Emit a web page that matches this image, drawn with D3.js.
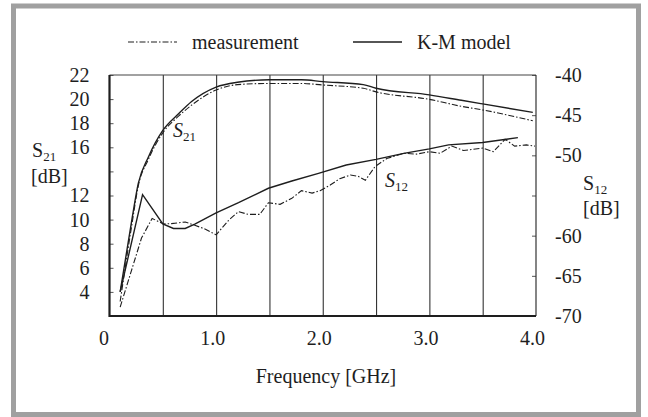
<!DOCTYPE html>
<html><head><meta charset="utf-8">
<script src="https://cdn.jsdelivr.net/npm/d3@7"></script>
<style>
html,body{margin:0;padding:0;background:#fff;}
svg{display:block;}
svg text{font-family:"Liberation Serif","Times New Roman",Times,"DejaVu Serif",serif !important;}
</style></head>
<body><svg id="c" width="648" height="417"></svg>
<script>
// ---- data ----
const s21Freq = [0.10, 0.21, 0.27, 0.365, 0.5, 0.65, 0.77, 1.0, 1.2, 1.5, 1.8, 2.0, 2.38, 2.5, 3.0, 3.3, 3.5, 3.97];
const s21Model = [4.0, 10.0, 13.0, 15.2, 17.4, 18.8, 19.8, 21.0, 21.4, 21.6, 21.6, 21.45, 21.2, 20.9, 20.35, 19.9, 19.6, 18.9];
const s21Meas  = [3.2, 9.6, 12.8, 15.0, 17.2, 18.6, 19.5, 20.75, 21.2, 21.3, 21.3, 21.17, 20.9, 20.6, 19.98, 19.4, 19.1, 18.2];

const s12ModelFreq = [0.10, 0.31, 0.5, 0.6, 0.71, 0.8, 1.0, 1.21, 1.49, 1.71, 1.96, 2.22, 2.5, 2.76, 3.0, 3.18, 3.5, 3.83];
const s12Model = [-67.0, -54.9, -58.55, -59.1, -59.1, -58.55, -57.15, -55.9, -54.1, -53.2, -52.25, -51.2, -50.5, -49.75, -49.2, -48.7, -48.4, -47.8];

const s12MeasFreq = [0.10, 0.30, 0.40, 0.506, 0.58, 0.71, 0.80, 0.90, 1.0, 1.12, 1.21, 1.30, 1.41, 1.49, 1.60, 1.71, 1.80, 1.90, 1.975, 2.07, 2.16, 2.26, 2.33, 2.40, 2.49, 2.60, 2.76, 2.88, 3.0, 3.10, 3.21, 3.32, 3.5, 3.6, 3.71, 3.80, 3.91, 3.99];
const s12Meas = [-68.9, -60.3, -57.85, -58.55, -58.5, -58.3, -58.7, -59.2, -59.9, -58.05, -57.0, -57.35, -57.35, -55.9, -56.1, -55.35, -54.4, -54.7, -54.4, -53.7, -52.9, -52.45, -52.6, -53.1, -51.4, -50.4, -49.75, -49.85, -49.55, -49.75, -48.85, -49.4, -49.1, -49.55, -48.0, -48.85, -48.7, -48.85];

const xTicks = [0, 1, 2, 3, 4];
const xGrid = [0.5, 1, 1.5, 2, 2.5, 3, 3.5];
const leftTicks = [2, 4, 6, 8, 10, 12, 14, 16, 18, 20, 22];
const leftLabels = [4, 6, 8, 10, 12, 16, 18, 20, 22];
const rightTicks = [-40, -45, -50, -55, -60, -65, -70];
const rightLabels = [-40, -45, -50, -60, -65, -70];
const legendNames = ["measurement", "K-M model"];

// ---- layout ----
const L = 109.5, R = 536, T = 75, B = 316;
const ink = "#1e1e1e";
const FONT = "Liberation Serif, Times New Roman, Times, DejaVu Serif, serif";
const svg = d3.select("#c");

// outer grey border
svg.append("rect").attr("x", 13.5).attr("y", 6).attr("width", 625).attr("height", 408.5)
  .attr("fill", "none").attr("stroke", "#a0a0a0").attr("stroke-width", 5);

const x = d3.scaleLinear().domain([0, 4]).range([L, R]);
const yL = d3.scaleLinear().domain([2, 22]).range([B, T]);
const yR = d3.scaleLinear().domain([-70, -40]).range([B, T]);

// grid lines
svg.append("g").attr("transform", `translate(0,${B})`)
  .call(d3.axisBottom(x).tickValues(xGrid).tickSize(-(B - T)).tickFormat(""))
  .call(g => g.select(".domain").remove())
  .call(g => g.selectAll("line").attr("stroke", "#333").attr("stroke-width", 1.1));

// bottom labels
svg.append("g").attr("transform", `translate(0,${B})`).attr("font-family", FONT)
  .call(d3.axisBottom(x).tickValues(xTicks).tickSize(0).tickPadding(15)
    .tickFormat(d => d === 0 ? "0" : d3.format(".1f")(d)))
  .call(g => g.select(".domain").remove())
  .call(g => g.selectAll("text").attr("font-size", 20)
    .attr("fill", ink).attr("dx", d => d === 0 ? -6 : -4));

// left axis
svg.append("g").attr("transform", `translate(${L},0)`).attr("font-family", FONT)
  .call(d3.axisLeft(yL).tickValues(leftTicks).tickSize(-4).tickPadding(20)
    .tickFormat(d => leftLabels.includes(d) ? String(d) : ""))
  .call(g => g.select(".domain").remove())
  .call(g => g.selectAll("line").attr("stroke", "#555"))
  .call(g => g.selectAll("text").attr("font-size", 20).attr("fill", ink));

// right axis
svg.append("g").attr("transform", `translate(${R},0)`).attr("font-family", FONT)
  .call(d3.axisRight(yR).tickValues(rightTicks).tickSize(-4).tickPadding(19)
    .tickFormat(d => rightLabels.includes(d) ? String(d) : ""))
  .call(g => g.select(".domain").remove())
  .call(g => g.selectAll("line").attr("stroke", "#555"))
  .call(g => g.selectAll("text").attr("font-size", 20).attr("fill", ink));

// frame
svg.append("line").attr("x1", L).attr("x2", R).attr("y1", T).attr("y2", T).attr("stroke", "#444").attr("stroke-width", 1.2);
svg.append("line").attr("x1", R).attr("x2", R).attr("y1", T).attr("y2", B).attr("stroke", "#333").attr("stroke-width", 1.2);
svg.append("line").attr("x1", L).attr("x2", L).attr("y1", T).attr("y2", B + 1).attr("stroke", ink).attr("stroke-width", 2.2);
svg.append("line").attr("x1", L).attr("x2", R).attr("y1", B).attr("y2", B).attr("stroke", ink).attr("stroke-width", 2);

// lines
const dash = "6,2,1.5,2";
const lineLs = d3.line().x(d => x(d[0])).y(d => yL(d[1])).curve(d3.curveMonotoneX);
const lineR = d3.line().x(d => x(d[0])).y(d => yR(d[1]));

const plot = svg.append("g").attr("fill", "none").attr("stroke", ink);
plot.append("path").attr("d", lineLs(d3.zip(s21Freq, s21Model))).attr("stroke-width", 1.4);
plot.append("path").attr("d", lineLs(d3.zip(s21Freq, s21Meas))).attr("stroke-width", 1.1).attr("stroke-dasharray", dash);
plot.append("path").attr("d", lineR(d3.zip(s12ModelFreq, s12Model))).attr("stroke-width", 1.4);
plot.append("path").attr("d", lineR(d3.zip(s12MeasFreq, s12Meas))).attr("stroke-width", 1.1).attr("stroke-dasharray", dash);

// text helper
function txt(xp, yp, s) {
  return svg.append("text").attr("x", xp).attr("y", yp).attr("font-size", 20)
    .attr("font-family", FONT).attr("fill", ink).text(s);
}
function subLabel(xp, yp, main, sub, italic) {
  const t = svg.append("text").attr("x", xp).attr("y", yp).attr("font-size", 20)
    .attr("font-family", FONT).attr("fill", ink);
  t.append("tspan").text(main).attr("font-style", italic ? "italic" : "normal");
  t.append("tspan").text(sub).attr("font-size", 13).attr("dy", 4);
  return t;
}
subLabel(173, 137, "S", "21", true);
subLabel(385, 187, "S", "12", true);

// axis titles
subLabel(32, 157, "S", "21", false);
txt(31, 183, "[dB]");
subLabel(583, 190, "S", "12", false);
txt(583, 215, "[dB]");

txt(326, 383, "Frequency [GHz]").attr("text-anchor", "middle");

// legend
svg.append("line").attr("x1", 128).attr("x2", 177).attr("y1", 42).attr("y2", 42)
  .attr("stroke", ink).attr("stroke-width", 1.1).attr("stroke-dasharray", dash);
txt(192, 49, legendNames[0]);
svg.append("line").attr("x1", 353).attr("x2", 402).attr("y1", 42).attr("y2", 42)
  .attr("stroke", ink).attr("stroke-width", 1.4);
txt(417, 49, legendNames[1]);
</script></body></html>
